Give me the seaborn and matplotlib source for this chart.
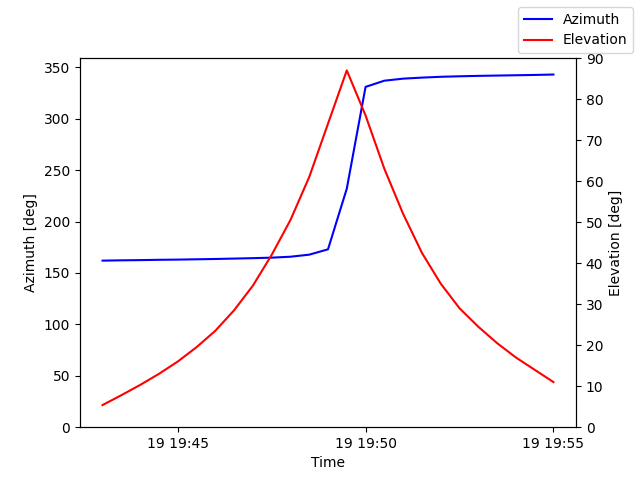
import matplotlib
matplotlib.use("Agg")
import matplotlib.pyplot as plt
import matplotlib.dates as mdates
import pandas as pd
import seaborn as sns

times = pd.date_range("2024-01-19 19:43:00", "2024-01-19 19:55:00", freq="30s")
azimuth = [162, 162.3, 162.5, 162.8, 163, 163.3, 163.6, 164, 164.4, 164.9, 165.8, 167.8, 173,
           232, 331, 337, 339, 340, 340.8, 341.3, 341.7, 342, 342.3, 342.6, 343]
elevation = [5.4, 7.8, 10.3, 13, 16, 19.5, 23.5, 28.5, 34.5, 42, 50.5, 61, 74,
             87, 76, 63, 52, 42.5, 35, 29, 24.5, 20.5, 17, 14, 11]

df = pd.DataFrame({"time": times, "azimuth": azimuth, "elevation": elevation})

fig, ax = plt.subplots(figsize=(6.4, 4.8), dpi=100)
sns.lineplot(data=df, x="time", y="azimuth", color="blue", label="Azimuth", ax=ax, legend=False)
ax2 = ax.twinx()
sns.lineplot(data=df, x="time", y="elevation", color="red", label="Elevation", ax=ax2, legend=False)

ax.set_ylim(0, 359)
ax2.set_ylim(0, 90)
ax.set_xlabel("Time")
ax.set_ylabel("Azimuth [deg]")
ax2.set_ylabel("Elevation [deg]")
ax.xaxis.set_major_locator(mdates.MinuteLocator(byminute=[45, 50, 55]))
ax.xaxis.set_major_formatter(mdates.DateFormatter("%d %H:%M"))

fig.legend(loc="upper right")
fig.subplots_adjust(left=0.125, right=0.9, top=0.879, bottom=0.11)
fig.savefig("out.png", dpi=100)
